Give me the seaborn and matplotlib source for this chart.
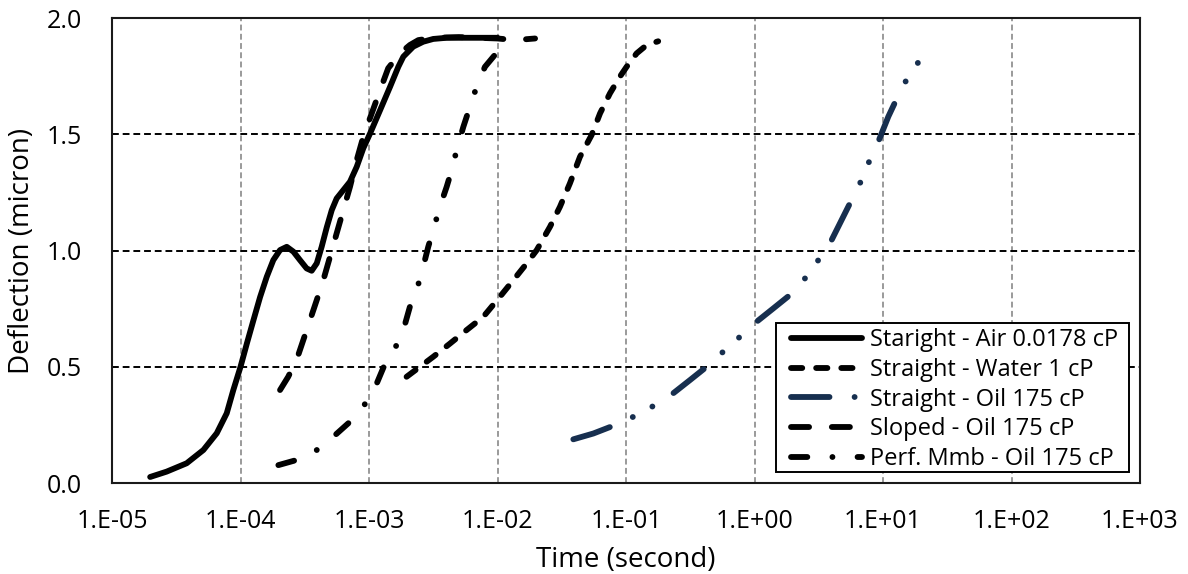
import numpy as np
import pandas as pd
import matplotlib
matplotlib.use("Agg")
import matplotlib.pyplot as plt
from matplotlib.patches import Rectangle
import seaborn as sns

# ---- data ----
air_t = [1.98e-5, 2.66e-5, 3.81e-5, 5.14e-5, 6.53e-5, 7.81e-5, 8.79e-5, 1.0e-4, 1.12e-4, 1.26e-4,
         1.42e-4, 1.60e-4, 1.80e-4, 2.03e-4, 2.29e-4, 2.58e-4, 2.90e-4, 3.27e-4, 3.58e-4, 3.92e-4,
         4.28e-4, 4.69e-4, 5.13e-4, 5.60e-4, 6.31e-4, 7.11e-4, 8.02e-4, 9.03e-4, 1.02e-3, 1.22e-3,
         1.46e-3, 1.69e-3, 1.85e-3, 2.21e-3, 2.64e-3, 3.16e-3, 4.02e-3, 1.0e-2]
air_y = [0.026, 0.049, 0.085, 0.142, 0.214, 0.30, 0.40, 0.50, 0.60, 0.70,
         0.80, 0.887, 0.959, 1.002, 1.016, 0.995, 0.959, 0.923, 0.913, 0.945,
         1.016, 1.10, 1.174, 1.224, 1.26, 1.296, 1.36, 1.44, 1.504, 1.604,
         1.705, 1.79, 1.834, 1.877, 1.898, 1.91, 1.915, 1.915]

water_t = [1.96e-3, 2.49e-3, 3.16e-3, 4.27e-3, 5.75e-3, 7.75e-3, 1.04e-2, 1.33e-2, 1.69e-2, 2.02e-2,
           2.56e-2, 3.06e-2, 3.66e-2, 4.38e-2, 5.40e-2, 6.28e-2, 7.5e-2, 8.97e-2, 0.101, 0.121,
           0.145, 0.178]
water_y = [0.457, 0.50, 0.543, 0.60, 0.658, 0.715, 0.80, 0.873, 0.945, 1.002,
           1.102, 1.188, 1.289, 1.403, 1.497, 1.59, 1.676, 1.748, 1.79, 1.848,
           1.884, 1.90]

oil_t = [3.89e-2, 5.57e-2, 8.2e-2, 0.114, 0.168, 0.233, 0.315, 0.424, 0.571, 0.77,
         1.04, 1.40, 1.89, 2.47, 3.14, 3.98, 4.76, 5.53, 6.62, 7.69,
         9.19, 11.0, 13.2, 15.7, 19.4]
oil_y = [0.188, 0.213, 0.249, 0.285, 0.335, 0.386, 0.443, 0.50, 0.565, 0.629,
         0.694, 0.751, 0.809, 0.88, 0.959, 1.045, 1.131, 1.203, 1.289, 1.375,
         1.468, 1.576, 1.669, 1.748, 1.82]

sloped_t = [2.03e-4, 2.35e-4, 2.73e-4, 3.08e-4, 3.47e-4, 3.92e-4, 4.41e-4, 4.97e-4, 5.60e-4, 6.31e-4,
            7.11e-4, 8.02e-4, 9.03e-4, 1.05e-3, 1.22e-3, 1.41e-3, 1.74e-3, 2.08e-3, 2.42e-3, 3.2e-3,
            5.0e-3, 1.0e-2, 1.37e-2, 1.96e-2]
sloped_y = [0.40, 0.457, 0.529, 0.615, 0.70, 0.787, 0.873, 0.973, 1.074, 1.174,
            1.274, 1.389, 1.49, 1.59, 1.69, 1.784, 1.848, 1.884, 1.905, 1.915,
            1.918, 1.912, 1.905, 1.912]

perf_t = [1.97e-4, 2.73e-4, 3.92e-4, 5.27e-4, 6.90e-4, 9.03e-4, 1.15e-3, 1.37e-3, 1.55e-3, 1.85e-3,
          2.08e-3, 2.35e-3, 2.64e-3, 2.89e-3, 3.16e-3, 3.56e-3, 4.02e-3, 4.40e-3, 4.81e-3, 5.42e-3,
          6.04e-3, 6.88e-3, 7.98e-3, 1.0e-2]
perf_y = [0.077, 0.099, 0.142, 0.199, 0.257, 0.328, 0.429, 0.529, 0.565, 0.658,
          0.758, 0.83, 0.93, 1.016, 1.088, 1.188, 1.274, 1.346, 1.432, 1.532,
          1.611, 1.705, 1.79, 1.855]

labels = ["Staright - Air 0.0178 cP", "Straight - Water 1 cP", "Straight - Oil 175 cP",
          "Sloped - Oil 175 cP", "Perf. Mmb - Oil 175 cP"]
x_ticks = [1e-5, 1e-4, 1e-3, 1e-2, 1e-1, 1e0, 1e1, 1e2, 1e3]
x_ticklabels = ["1.E-05", "1.E-04", "1.E-03", "1.E-02", "1.E-01", "1.E+00", "1.E+01", "1.E+02", "1.E+03"]
y_ticks = [0.0, 0.5, 1.0, 1.5, 2.0]

# ---- style ----
sns.set_theme(style="white")
plt.rcParams["font.family"] = ["Open Sans", "DejaVu Sans"]
plt.rcParams["text.color"] = "black"

fig = plt.figure(figsize=(11.88, 5.74), dpi=100)
ax = fig.add_axes([0.0943, 0.1585, 0.9596 - 0.0943, 0.9686 - 0.1585])

lw = 4.2
series = [
    (air_t, air_y, labels[0], "black", "-"),
    (water_t, water_y, labels[1], "black", (0, (1.93, 2.38))),
    (oil_t, oil_y, labels[2], "#172f4f", (0, (6.6, 4.3, 0.01, 3.8, 0.01, 4.3))),
    (sloped_t, sloped_y, labels[3], "black", (0, (3.1, 3.9))),
    (perf_t, perf_y, labels[4], "black", (0, (2.8, 4.3, 0.01, 4.3))),
]
for t, y, lab, col, ls in series:
    df = pd.DataFrame({"t": t, "y": y})
    sns.lineplot(data=df, x="t", y="y", ax=ax, color=col, linewidth=lw, linestyle=ls,
                 label=lab, sort=False, estimator=None,
                 dash_capstyle="round", solid_capstyle="round", zorder=3)

ax.set_xscale("log")
ax.set_xlim(1e-5, 1e3)
ax.set_ylim(0, 2.0)
ax.set_xticks(x_ticks)
ax.set_xticklabels(x_ticklabels)
ax.xaxis.set_minor_locator(matplotlib.ticker.NullLocator())
ax.set_yticks(y_ticks)
ax.set_yticklabels([f"{v:.1f}" for v in y_ticks])

ax.xaxis.grid(True, color="#9a9a9a", linestyle=(0, (3.0, 1.75)), lw=1.4, dash_capstyle="butt")
ax.yaxis.grid(True, color="black", linestyle=(0, (3.5, 2.0)), lw=1.4, dash_capstyle="butt")
ax.set_axisbelow(True)

for s in ax.spines.values():
    s.set_color("#1a1a1a")
    s.set_linewidth(1.5)
    s.set_zorder(4)

ax.tick_params(axis="both", length=0, labelsize=18, colors="black")
ax.tick_params(axis="x", pad=19)
ax.tick_params(axis="y", pad=21.5)

ax.set_xlabel("Time (second)", fontsize=20, labelpad=8, color="black")
ax.set_ylabel("Deflection (micron)", fontsize=20, labelpad=8, color="black")

# legend frame drawn as a box, entries placed inside it
frame = Rectangle((0.646, 0.024), 0.989 - 0.646, 0.344 - 0.024, transform=ax.transAxes,
                  facecolor="white", edgecolor="black", lw=1.4, zorder=4.5)
ax.add_patch(frame)
leg = ax.legend(loc="upper left", bbox_to_anchor=(0.6605, 0.333), borderaxespad=0,
                fontsize=17, frameon=False, handlelength=3.0, handletextpad=0.35,
                labelspacing=0.24, borderpad=0, labelcolor="black")
leg.set_zorder(5)

fig.savefig("out.png", dpi=100)
